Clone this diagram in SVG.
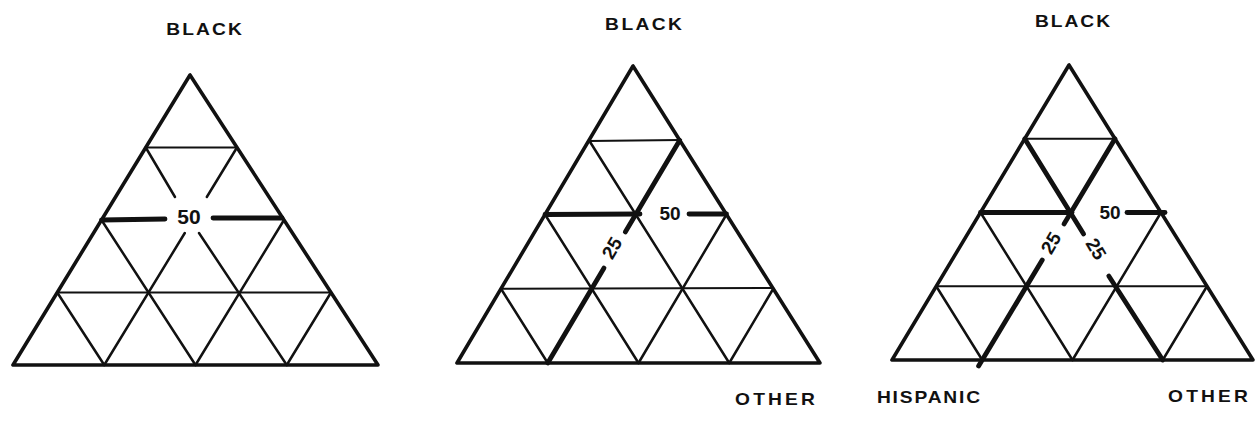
<svg xmlns="http://www.w3.org/2000/svg" width="1258" height="424" viewBox="0 0 1258 424">
<style>
.bg{fill:#ffffff}
.outline{fill:none;stroke:#111;stroke-width:3.6;stroke-linejoin:round}
.grid{fill:none;stroke:#111;stroke-width:2.5;stroke-linecap:round}
.hgrid{fill:none;stroke:#111;stroke-width:2;stroke-linecap:round}
.bold{fill:none;stroke:#111;stroke-width:4.8;stroke-linecap:round}
.axis{font-family:"Liberation Sans",Arial,sans-serif;font-weight:bold;font-size:16px;fill:#111;text-anchor:middle}
.num{font-family:"Liberation Sans",Arial,sans-serif;font-weight:bold;fill:#111;text-anchor:middle;dominant-baseline:central}
</style>
<rect class="bg" x="0" y="0" width="1258" height="424"/>

<g id="triangle-1">
  <polygon class="outline" points="190,75 13,365 378,365"/>
  <line class="hgrid" x1="145.75" y1="147.5" x2="237" y2="147.5"/>
  <line class="hgrid" x1="57.25" y1="292.5" x2="331" y2="292.5"/>
  <line class="bold" x1="101.5" y1="220" x2="165" y2="219"/>
  <line class="bold" x1="213" y1="218" x2="282" y2="218"/>
  <line class="grid" x1="104.25" y1="365" x2="184.8" y2="233"/>
  <line class="grid" x1="206.8" y1="197" x2="237" y2="147.5"/>
  <line class="grid" x1="145.75" y1="147.5" x2="175" y2="197"/>
  <line class="grid" x1="199" y1="233" x2="286.75" y2="365"/>
  <line class="grid" x1="195.5" y1="365" x2="284" y2="220"/>
  <line class="grid" x1="286.75" y1="365" x2="331" y2="292.5"/>
  <line class="grid" x1="101.5" y1="220" x2="195.5" y2="365"/>
  <line class="grid" x1="57.25" y1="292.5" x2="104.25" y2="365"/>
  <text class="num" x="189" y="216" font-size="21">50</text>
  <text class="axis" transform="translate(204 35) scale(1.2 1)" x="0" y="0" textLength="63" lengthAdjust="spacing">BLACK</text>
</g>

<g id="triangle-2">
  <polygon class="outline" points="633,66 457,363 820,363"/>
  <line class="hgrid" x1="589" y1="141" x2="679.75" y2="140"/>
  <line class="hgrid" x1="501" y1="288.75" x2="773.25" y2="288"/>
  <line class="bold" x1="545" y1="214.5" x2="640" y2="214"/>
  <line class="bold" x1="689" y1="214" x2="726.5" y2="214"/>
  <line class="bold" x1="547.75" y1="363" x2="604" y2="268"/>
  <line class="bold" x1="625.3" y1="232" x2="679.75" y2="140.25"/>
  <line class="grid" x1="638.5" y1="363" x2="726.5" y2="214.5"/>
  <line class="grid" x1="729.25" y1="363" x2="773.25" y2="288.75"/>
  <line class="grid" x1="589" y1="140.25" x2="729.25" y2="363"/>
  <line class="grid" x1="545" y1="214.5" x2="638.5" y2="363"/>
  <line class="grid" x1="501" y1="288.75" x2="547.75" y2="363"/>
  <text class="num" x="670" y="213" font-size="19">50</text>
  <text class="num" x="612" y="248" font-size="19" transform="rotate(-59.3 612 248)">25</text>
  <text class="axis" transform="translate(643.5 30) scale(1.2 1)" x="0" y="0" textLength="64" lengthAdjust="spacing">BLACK</text>
  <text class="axis" transform="translate(775 405) scale(1.2 1)" x="0" y="0" textLength="66.5" lengthAdjust="spacing">OTHER</text>
</g>

<g id="triangle-3">
  <polygon class="outline" points="1069,65 892,360 1253,360"/>
  <line class="hgrid" x1="1024.75" y1="138.75" x2="1115" y2="138.75"/>
  <line class="hgrid" x1="936.25" y1="286.25" x2="1207" y2="286.25"/>
  <line class="bold" x1="980.5" y1="212.5" x2="1072" y2="212.5"/>
  <line class="bold" x1="1127" y1="212.5" x2="1165" y2="212.5"/>
  <line class="bold" x1="1115" y1="138.75" x2="1064" y2="224"/>
  <line class="bold" x1="1042.25" y1="260" x2="978.6" y2="366"/>
  <line class="bold" x1="1024.75" y1="138.75" x2="1083.6" y2="234"/>
  <line class="bold" x1="1108.8" y1="276" x2="1162.75" y2="360"/>
  <line class="grid" x1="1072.5" y1="360" x2="1161" y2="212.5"/>
  <line class="grid" x1="1162.75" y1="360" x2="1207" y2="286.25"/>
  <line class="grid" x1="980.5" y1="212.5" x2="1072.5" y2="360"/>
  <line class="grid" x1="936.25" y1="286.25" x2="982.25" y2="360"/>
  <text class="num" x="1110" y="212" font-size="19">50</text>
  <text class="num" x="1051" y="243" font-size="19" transform="rotate(-59.3 1051 243)">25</text>
  <text class="num" x="1096" y="249" font-size="19" transform="rotate(59.3 1096 249)">25</text>
  <text class="axis" transform="translate(1072.5 27) scale(1.2 1)" x="0" y="0" textLength="62.5" lengthAdjust="spacing">BLACK</text>
  <text class="axis" transform="translate(928.5 403) scale(1.2 1)" x="0" y="0" textLength="86" lengthAdjust="spacing">HISPANIC</text>
  <text class="axis" transform="translate(1208 402) scale(1.2 1)" x="0" y="0" textLength="66.5" lengthAdjust="spacing">OTHER</text>
</g>
</svg>
